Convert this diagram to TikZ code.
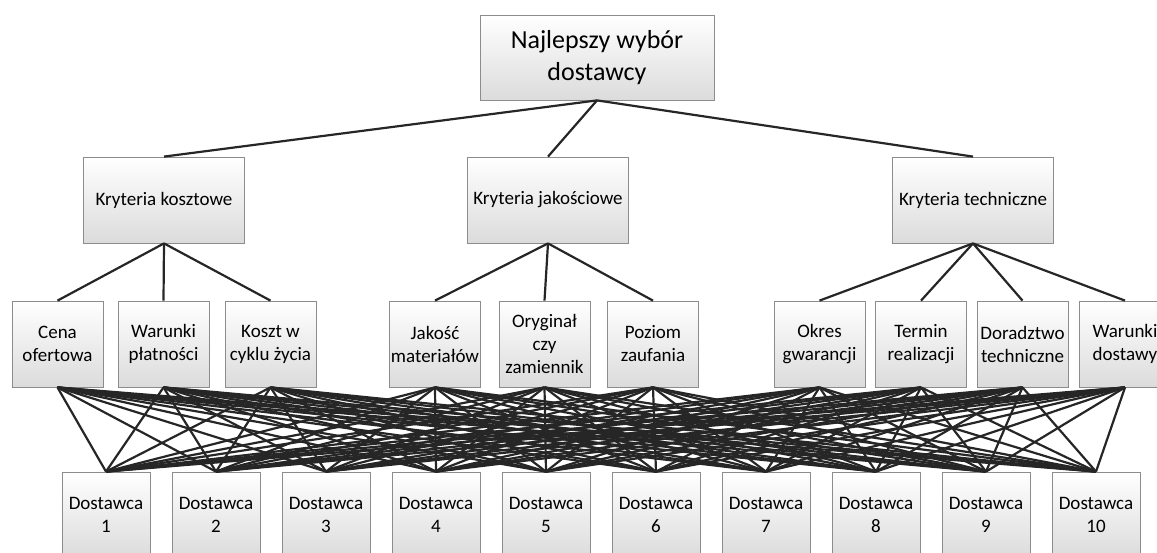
\documentclass[tikz,border=0pt]{standalone}
\usepackage{fontspec}
\setmainfont{Carlito}
\tikzset{
    box/.style={draw=black!45, line width=0.8pt, top color=white, bottom color=black!14,
        inner sep=0pt, align=center, font=\fontsize{19}{23}\selectfont},
    crit/.style={box, minimum width=161pt, minimum height=86pt},
    sub/.style={box, minimum width=91pt, minimum height=86pt},
    supp/.style={box, minimum width=88pt, minimum height=86pt},
    link/.style={draw=black!85, line width=2.2pt},
}
\begin{document}
\begin{tikzpicture}[x=1pt,y=-1pt]
    \clip (0,0) rectangle (1157,552);
    \useasboundingbox (0,0) rectangle (1157,552);
    % goal
    \node[box, minimum width=234pt, minimum height=85pt,
        font=\fontsize{26}{32}\selectfont] (N) at (597,57.5) {Najlepszy wybór\\dostawcy};
    % criteria
    \node[crit] (K1) at (164,200) {Kryteria kosztowe};
    \node[crit] (K2) at (548,200) {Kryteria jakościowe};
    \node[crit] (K3) at (973,200) {Kryteria techniczne};
    % sub-criteria
    \node[sub] (k1)  at (57.5,344)   {Cena\\ofertowa};
    \node[sub] (k2)  at (163.5,344)  {Warunki\\płatności};
    \node[sub] (k3)  at (270.5,344)  {Koszt w\\cyklu życia};
    \node[sub] (k4)  at (435,344)    {Jakość\\materiałów};
    \node[sub] (k5)  at (544.5,344)  {Oryginał\\czy\\zamiennik};
    \node[sub] (k6)  at (653,344)    {Poziom\\zaufania};
    \node[sub] (k7)  at (819.5,344)  {Okres\\gwarancji};
    \node[sub] (k8)  at (921,344)    {Termin\\realizacji};
    \node[sub] (k9)  at (1022.5,344) {Doradztwo\\techniczne};
    \node[sub] (k10) at (1125,344)   {Warunki\\dostawy};
    % suppliers
    \foreach \j in {1,...,10}
        \node[supp] (D\j) at ({106+110*(\j-1)},515) {Dostawca\\\j};
    % links
    \foreach \i in {1,2,3}
        \draw[link] (N.south) -- (K\i.north);
    \foreach \i in {1,2,3}
        \draw[link] (K1.south) -- (k\i.north);
    \foreach \i in {4,5,6}
        \draw[link] (K2.south) -- (k\i.north);
    \foreach \i in {7,...,10}
        \draw[link] (K3.south) -- (k\i.north);
    \foreach \i in {1,...,10}
        \foreach \j in {1,...,10}
            \draw[link] (k\i.south) -- (D\j.north);
\end{tikzpicture}
\end{document}
